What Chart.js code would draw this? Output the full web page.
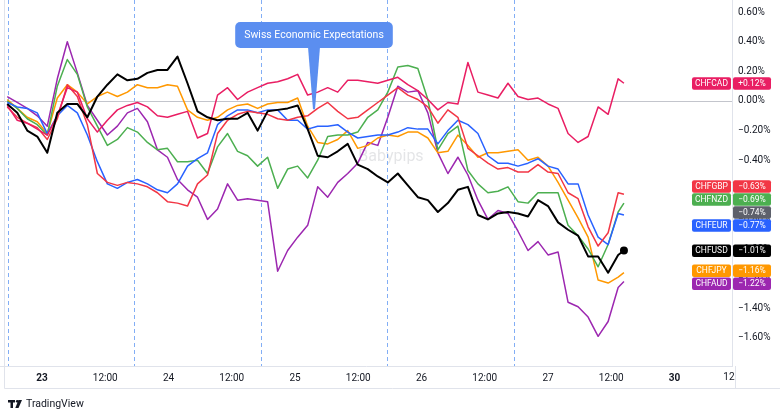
<!DOCTYPE html>
<html>
<head>
<meta charset="utf-8">
<script src="https://cdn.jsdelivr.net/npm/chart.js@4.4.1/dist/chart.umd.min.js"></script>
<style>
  html, body { margin: 0; padding: 0; background: #fff; }
  #wrap { width: 780px; height: 415px; position: relative; }
</style>
</head>
<body>
<div id="wrap"><canvas id="myChart" width="780" height="415"></canvas></div>
<script>
// hours from the 23rd 00:00 on the trading-time axis (weekend left out)
const hours = [
  -6.6, -4.7, -2.8, -0.9, 1.0, 2.9, 4.8, 6.7, 8.6, 10.5,
  12.4, 14.3, 16.2, 18.1, 20.0, 21.9, 23.8, 25.7, 27.6, 29.5,
  31.4, 33.3, 35.2, 37.1, 39.0, 40.9, 42.8, 44.7, 46.6, 48.5,
  50.4, 52.3, 54.2, 56.1, 58.0, 59.9, 61.8, 63.7, 65.6, 67.5,
  69.4, 71.3, 73.2, 75.1, 77.0, 78.9, 80.8, 82.7, 84.6, 86.5,
  88.4, 90.3, 92.2, 94.1, 96.0, 97.9, 99.8, 101.7, 103.6, 105.5,
  107.4, 109.3, 110.4
];

// % change of each pair
const chfUsd = [-0.02,-0.08,-0.20,-0.24,-0.35,-0.08,-0.02,-0.02,-0.11,0.03,
  0.11,0.18,0.14,0.15,0.19,0.21,0.21,0.30,0.12,-0.07,
  -0.11,-0.13,-0.12,-0.12,-0.08,-0.20,-0.07,-0.06,-0.05,-0.03,
  -0.19,-0.37,-0.38,-0.34,-0.29,-0.43,-0.46,-0.51,-0.55,-0.49,
  -0.57,-0.65,-0.67,-0.75,-0.69,-0.60,-0.58,-0.77,-0.80,-0.76,
  -0.75,-0.76,-0.78,-0.67,-0.71,-0.82,-0.87,-0.91,-1.05,-1.05,
  -1.16,-1.04,-1.01];
const chfCad = [-0.03,-0.13,-0.15,-0.19,-0.23,-0.10,0.09,0.06,-0.12,-0.21,
  -0.13,-0.06,-0.03,-0.01,-0.04,-0.10,-0.11,-0.09,-0.07,-0.25,
  -0.22,0.04,0.09,0.01,0.06,0.09,0.12,0.13,0.15,0.18,
  0.04,0.06,0.09,0.06,0.14,0.14,0.13,0.12,0.14,0.16,
  0.11,0.07,0.01,-0.06,-0.01,-0.02,0.26,0.06,0.04,0.02,
  0.12,0.03,0.01,0.02,-0.02,-0.05,-0.22,-0.28,-0.24,-0.04,
  -0.09,0.15,0.12];
const chfGbp = [-0.04,-0.11,-0.15,-0.18,-0.26,-0.12,0.11,0.03,-0.16,-0.49,
  -0.55,-0.57,-0.55,-0.56,-0.58,-0.62,-0.68,-0.69,-0.71,-0.56,
  -0.50,-0.22,-0.13,-0.09,-0.07,-0.08,-0.09,-0.12,-0.13,-0.11,
  -0.10,-0.05,-0.01,-0.07,-0.12,-0.11,-0.06,-0.01,0.04,0.09,
  0.04,0.01,-0.04,-0.15,-0.06,-0.11,-0.32,-0.37,-0.42,-0.46,
  -0.45,-0.48,-0.48,-0.43,-0.48,-0.49,-0.62,-0.66,-0.85,-0.98,
  -0.89,-0.62,-0.63];
const chfEur = [-0.01,-0.04,-0.05,-0.08,-0.22,-0.10,-0.03,-0.08,-0.23,-0.41,
  -0.56,-0.59,-0.55,-0.53,-0.56,-0.60,-0.62,-0.56,-0.44,-0.39,
  -0.35,-0.16,-0.10,-0.06,-0.06,-0.08,-0.06,-0.06,-0.13,-0.13,
  -0.19,-0.17,-0.17,-0.16,-0.21,-0.25,-0.24,-0.23,-0.23,-0.21,
  -0.18,-0.19,-0.19,-0.29,-0.20,-0.13,-0.16,-0.22,-0.37,-0.42,
  -0.42,-0.44,-0.42,-0.39,-0.44,-0.46,-0.56,-0.56,-0.77,-0.92,
  -0.97,-0.76,-0.77];
const chfNzd = [0.00,-0.05,-0.12,-0.16,-0.23,0.10,0.28,0.18,-0.04,-0.17,
  -0.30,-0.26,-0.18,-0.21,-0.28,-0.33,-0.32,-0.41,-0.41,-0.40,
  -0.49,-0.31,-0.22,-0.34,-0.37,-0.44,-0.38,-0.59,-0.46,-0.44,
  -0.52,-0.40,-0.24,-0.23,-0.23,-0.21,-0.11,-0.06,0.06,0.23,
  0.24,0.22,0.01,-0.33,-0.22,-0.17,-0.47,-0.56,-0.62,-0.61,
  -0.58,-0.68,-0.69,-0.62,-0.62,-0.62,-0.84,-0.91,-1.00,-1.12,
  -0.97,-0.75,-0.69];
const chfJpy = [0.01,-0.05,-0.11,-0.14,-0.22,0.02,0.11,0.06,-0.02,0.03,
  0.06,0.03,0.06,0.11,0.09,0.09,0.11,0.10,-0.06,-0.11,
  -0.13,-0.11,-0.06,-0.03,-0.02,-0.05,-0.02,-0.01,-0.01,0.02,
  -0.17,-0.28,-0.29,-0.26,-0.20,-0.32,-0.30,-0.25,-0.23,-0.24,
  -0.21,-0.21,-0.25,-0.35,-0.34,-0.23,-0.30,-0.38,-0.35,-0.35,
  -0.34,-0.33,-0.40,-0.38,-0.44,-0.55,-0.67,-0.79,-0.92,-1.21,
  -1.23,-1.19,-1.16];
const chfAud = [0.03,-0.01,-0.05,-0.10,-0.17,0.15,0.40,0.19,-0.03,-0.13,
  -0.23,-0.17,-0.08,-0.05,-0.14,-0.33,-0.38,-0.53,-0.60,-0.65,
  -0.80,-0.73,-0.56,-0.67,-0.66,-0.67,-0.68,-1.15,-1.01,-0.92,
  -0.84,-0.58,-0.65,-0.55,-0.49,-0.42,-0.28,-0.30,-0.11,0.10,
  0.06,0.07,-0.08,-0.35,-0.49,-0.38,-0.50,-0.67,-0.80,-0.74,
  -0.76,-0.88,-1.01,-0.95,-1.04,-1.02,-1.36,-1.39,-1.46,-1.59,
  -1.49,-1.26,-1.22];

const seriesNames = ['CHFUSD', 'CHFCAD', 'CHFGBP', 'CHFEUR', 'CHFNZD', 'CHFJPY', 'CHFAUD'];
const seriesValues = [chfUsd, chfCad, chfGbp, chfEur, chfNzd, chfJpy, chfAud];
const seriesColors = ['#000000', '#E91E63', '#F23645', '#2962FF', '#4CAF50', '#FF9800', '#9C27B0'];

// main symbol last value (its line is hidden)
const mainLast = -0.74;

const xTickHours = [0, 12, 24, 36, 48, 60, 72, 84, 96, 108, 120, 132];
const xTickLabels = ['23', '12:00', '24', '12:00', '25', '12:00', '26', '12:00', '27', '12:00', '30', '12:00'];
const xTickBold = ['23', '30'];
const yTicks = [-1.6, -1.4, -1.2, -1.0, -0.8, -0.6, -0.4, -0.2, 0, 0.2, 0.4, 0.6];
const sessionHours = [-6.5, 17.5, 41.5, 65.5, 89.5];

const eventHour = 51.6;
const eventValue = -0.055;
const eventText = 'Swiss Economic Expectations';

const FONT = 'Roboto, "Noto Sans", sans-serif';

function pct(v, sign) {
  const s = Math.abs(v).toFixed(2) + '%';
  if (v < 0) return '\u2212' + s;
  return (sign && v > 0 ? '+' : '') + s;
}

const overlay = {
  id: 'overlay',
  beforeDatasetsDraw(chart) {
    const { ctx, chartArea: a, scales: { x, y } } = chart;
    ctx.save();
    // watermark
    ctx.font = '16px ' + FONT;
    ctx.fillStyle = 'rgba(120,123,134,0.2)';
    ctx.textAlign = 'center';
    ctx.textBaseline = 'middle';
    ctx.fillText('Babypips', 391, 157);
    // session breaks
    ctx.strokeStyle = '#82aef5';
    ctx.lineWidth = 1;
    ctx.setLineDash([4, 3]);
    sessionHours.forEach(h => {
      const px = Math.round(x.getPixelForValue(h)) + 0.5;
      ctx.beginPath();
      ctx.moveTo(px, a.top);
      ctx.lineTo(px, a.bottom);
      ctx.stroke();
    });
    // zero line
    ctx.setLineDash([]);
    ctx.strokeStyle = '#c3c5cc';
    const zy = Math.round(y.getPixelForValue(0)) + 0.5;
    ctx.beginPath();
    ctx.moveTo(a.left, zy);
    ctx.lineTo(a.right, zy);
    ctx.stroke();
    ctx.restore();
  },
  afterDraw(chart) {
    const { ctx, chartArea: a, scales: { x, y } } = chart;
    ctx.save();

    // frame around pane and time axis
    ctx.strokeStyle = '#e0e3eb';
    ctx.lineWidth = 1;
    ctx.beginPath();
    ctx.moveTo(4.5, 0); ctx.lineTo(4.5, a.bottom + 22.5);
    ctx.lineTo(780, a.bottom + 22.5);
    ctx.moveTo(a.right + 3.5, a.bottom); ctx.lineTo(a.right + 3.5, a.bottom + 22.5);
    ctx.stroke();

    // time labels past the last visible tick, cut at the price axis
    ctx.save();
    ctx.beginPath();
    ctx.rect(a.left, a.bottom, a.right - a.left + 3, 22);
    ctx.clip();
    ctx.fillStyle = '#131722';
    ctx.font = '10px ' + FONT;
    ctx.textAlign = 'center';
    ctx.textBaseline = 'top';
    xTickHours.forEach((h, i) => {
      if (h > x.max) ctx.fillText(xTickLabels[i], x.getPixelForValue(h) - 2, a.bottom + 6);
    });
    ctx.restore();

    // event callout
    const ax = x.getPixelForValue(eventHour);
    const ay = y.getPixelForValue(eventValue);
    ctx.font = '10.5px ' + FONT;
    const tw = ctx.measureText(eventText).width;
    const bw = tw + 18, bh = 26, bt = 22;
    const bl = ax - bw / 2;
    ctx.fillStyle = '#5b8ef0';
    ctx.beginPath();
    ctx.roundRect(bl, bt, bw, bh, 5);
    ctx.fill();
    ctx.beginPath();
    ctx.moveTo(ax - 6, bt + bh - 1);
    ctx.lineTo(ax + 6, bt + bh - 1);
    ctx.lineTo(ax + 1, ay);
    ctx.lineTo(ax - 1, ay);
    ctx.closePath();
    ctx.fill();
    ctx.fillStyle = '#ffffff';
    ctx.textAlign = 'center';
    ctx.textBaseline = 'middle';
    ctx.fillText(eventText, ax, bt + bh / 2 + 0.5);

    // last value tags on the price axis
    const h = 13;
    const tags = seriesNames.map((n, i) => ({
      name: n, color: seriesColors[i], value: seriesValues[i][seriesValues[i].length - 1]
    }));
    tags.push({ name: null, color: '#5d606b', value: mainLast });
    tags.forEach(t => { t.want = y.getPixelForValue(t.value); });
    tags.sort((p, q) => p.want - q.want);
    let groups = tags.map(t => ({ items: [t], top: t.want - h / 2 }));
    let merged = true;
    while (merged) {
      merged = false;
      for (let i = 0; i < groups.length - 1; i++) {
        const g = groups[i], nx = groups[i + 1];
        if (g.top + g.items.length * h > nx.top) {
          const items = g.items.concat(nx.items);
          const c = items.reduce((s, t) => s + t.want, 0) / items.length;
          groups.splice(i, 2, { items, top: c - items.length * h / 2 });
          merged = true;
          break;
        }
      }
    }
    ctx.font = '8.5px ' + FONT;
    ctx.textAlign = 'center';
    ctx.textBaseline = 'middle';
    groups.forEach(g => g.items.forEach((t, k) => {
      const cy = g.top + h * k + h / 2;
      ctx.fillStyle = t.color;
      ctx.beginPath();
      ctx.roundRect(a.right + 1, cy - 6, 38, 12.5, 2);
      ctx.fill();
      if (t.name) {
        ctx.beginPath();
        ctx.roundRect(a.right - 40, cy - 6, 39, 12.5, 2);
        ctx.fill();
      }
      ctx.fillStyle = '#ffffff';
      ctx.fillText(pct(t.value, true), a.right + 20, cy + 0.5);
      if (t.name) ctx.fillText(t.name, a.right - 20.5, cy + 0.5);
    }));

    // logo
    ctx.fillStyle = '#131722';
    ctx.fillRect(8, 400, 7, 2.5);
    ctx.fillRect(10.5, 400, 2.5, 8);
    ctx.beginPath();
    ctx.arc(17.3, 401.3, 1.4, 0, Math.PI * 2);
    ctx.fill();
    ctx.beginPath();
    ctx.moveTo(18.5, 400); ctx.lineTo(22, 400); ctx.lineTo(18.5, 408); ctx.lineTo(15.3, 408);
    ctx.closePath();
    ctx.fill();
    ctx.font = '10.5px ' + FONT;
    ctx.textAlign = 'left';
    ctx.textBaseline = 'middle';
    ctx.fillText('TradingView', 26, 404.5);
    ctx.restore();
  }
};

document.addEventListener('DOMContentLoaded', function() {
  const ctx = document.getElementById('myChart').getContext('2d');
  const last = hours.length - 1;

  new Chart(ctx, {
    type: 'line',
    data: {
      datasets: seriesNames.map((name, i) => ({
        label: name,
        data: hours.map((hr, k) => ({ x: hr, y: seriesValues[i][k] })),
        borderColor: seriesColors[i],
        backgroundColor: seriesColors[i],
        borderWidth: name === 'CHFUSD' ? 2 : 1.5,
        borderJoinStyle: 'round',
        pointRadius: c => (name === 'CHFUSD' && c.dataIndex === last) ? 3 : 0,
        tension: 0,
        fill: false
      }))
    },
    options: {
      responsive: false,
      devicePixelRatio: 1,
      animation: false,
      events: [],
      layout: { autoPadding: false, padding: { left: 0, right: 0, top: 0, bottom: 27 } },
      plugins: { legend: { display: false }, tooltip: { enabled: false } },
      scales: {
        x: {
          type: 'linear',
          min: -7.97,
          max: 130.9,
          afterBuildTicks: s => { s.ticks = xTickHours.filter(v => v <= s.max).map(v => ({ value: v })); },
          afterFit: s => { s.height = 22; s.paddingLeft = 0; s.paddingRight = 0; },
          grid: { display: false, drawTicks: false },
          border: { display: true, color: '#e0e3eb' },
          ticks: {
            autoSkip: false,
            maxRotation: 0,
            padding: 6,
            color: '#131722',
            font: c => ({ family: FONT, size: 10, weight: xTickBold.includes(c.tick && c.tick.label) ? 'bold' : 'normal' }),
            callback: v => xTickLabels[xTickHours.indexOf(v)]
          }
        },
        y: {
          position: 'right',
          min: -1.7905,
          max: 0.6824,
          afterBuildTicks: s => { s.ticks = yTicks.map(v => ({ value: v })); },
          afterFit: s => { s.width = 48; s.paddingTop = 0; s.paddingBottom = 0; },
          grid: { display: false, drawTicks: false },
          border: { display: true, color: '#e0e3eb' },
          ticks: {
            padding: 6,
            color: '#131722',
            font: { family: FONT, size: 10 },
            callback: v => pct(v, false)
          }
        }
      }
    },
    plugins: [overlay]
  });
});
</script>
</body>
</html>
